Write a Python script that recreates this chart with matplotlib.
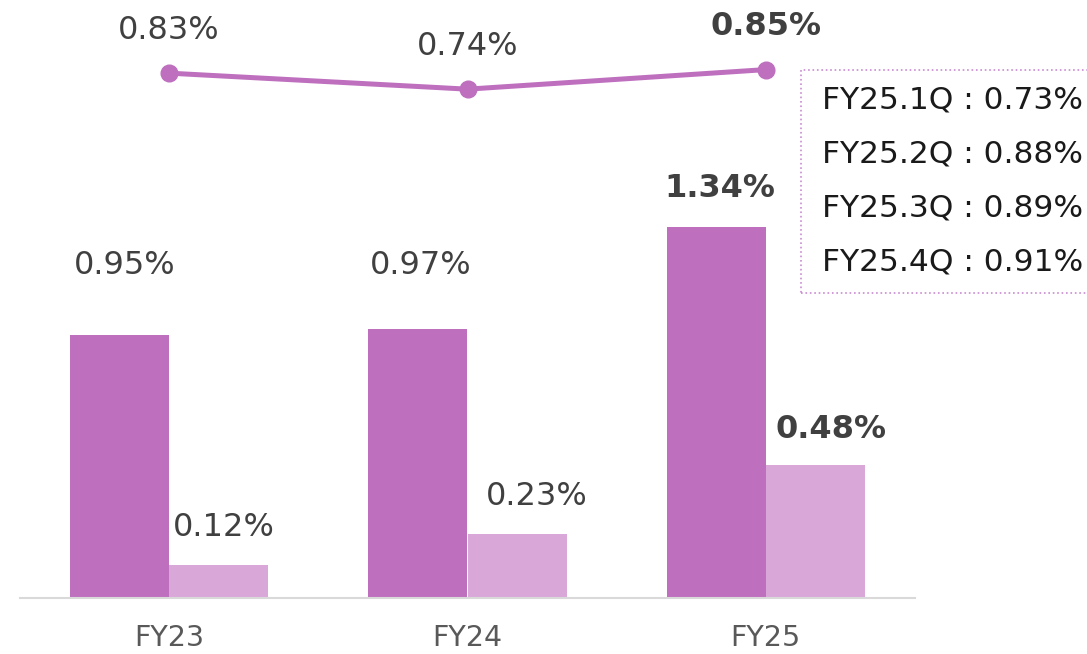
import matplotlib.pyplot as plt
from matplotlib.patches import Rectangle
import numpy as np

# fiscal years and rates (%)
years = ["FY23", "FY24", "FY25"]
rate_a = [0.95, 0.97, 1.34]
rate_b = [0.12, 0.23, 0.48]
rate_line = [0.83, 0.74, 0.85]
quarters = ["FY25.1Q", "FY25.2Q", "FY25.3Q", "FY25.4Q"]
quarter_rates = [0.73, 0.88, 0.89, 0.91]

dark = "#BE6FBE"
light = "#D9A8D9"
txt = "#404040"

W, H = 1087, 654
fig = plt.figure(figsize=(W / 100, H / 100), dpi=100)
ax = fig.add_axes([20 / W, 1 - 598 / H, 895 / W, 598 / H])

x = np.arange(len(years))
bw = 0.332
ax.bar(x - bw / 2, rate_a, bw, color=dark, zorder=2)
ax.bar(x + bw / 2, rate_b, bw, color=light, zorder=2)
ax.set_xlim(-0.5, 2.5)
ax.set_ylim(0, 598 / 277)

for s in ["top", "left", "right"]:
    ax.spines[s].set_visible(False)
ax.spines["bottom"].set_color("#D9D9D9")
ax.spines["bottom"].set_linewidth(1.5)
ax.set_yticks([])
ax.set_xticks(x)
ax.set_xticklabels(years, fontsize=20.5, color="#595959")
ax.tick_params(axis="x", length=0, pad=19)

# label offsets in pixels (dx, dy) from bar tops
off_a = [(5, 69), (2.5, 64), (3.5, 38)]
off_b = [(5.5, 37), (20, 38), (16, 36)]
for i in range(len(years)):
    w = "bold" if i == 2 else "normal"
    dx, dy = off_a[i]
    ax.annotate(f"{rate_a[i]:.2f}%", (x[i] - bw / 2, rate_a[i]),
                xytext=(dx * 0.72, dy * 0.72), textcoords="offset points",
                ha="center", va="center", fontsize=23, color=txt,
                fontweight=w)
    dx, dy = off_b[i]
    ax.annotate(f"{rate_b[i]:.2f}%", (x[i] + bw / 2, rate_b[i]),
                xytext=(dx * 0.72, dy * 0.72), textcoords="offset points",
                ha="center", va="center", fontsize=23, color=txt,
                fontweight=w)

# line on its own scale
ax2 = ax.twinx()
ax2.set_ylim(-2.119, 1.241)
ax2.axis("off")
ax2.plot(x, rate_line, color=dark, lw=3.6, marker="o", markersize=12,
         solid_capstyle="round", zorder=3)
for i, v in enumerate(rate_line):
    ax2.annotate(f"{v:.2f}%", (x[i], v), xytext=(0, 43 * 0.72),
                 textcoords="offset points", ha="center", va="center",
                 fontsize=23, color=txt,
                 fontweight="bold" if i == 2 else "normal")

# quarterly breakdown box
fig.patches.append(Rectangle((801 / W, 1 - 293 / H), 400 / W, 223 / H,
                             transform=fig.transFigure, fill=False,
                             edgecolor="#C98BD2", lw=1.2, linestyle=":"))
for i, (q, r) in enumerate(zip(quarters, quarter_rates)):
    fig.text(822 / W, 1 - (100 + 54 * i) / H, f"{q} : {r:.2f}%",
             fontsize=22.5, color="#1A1A1A", ha="left", va="center")

fig.savefig("out.png", dpi=100)
